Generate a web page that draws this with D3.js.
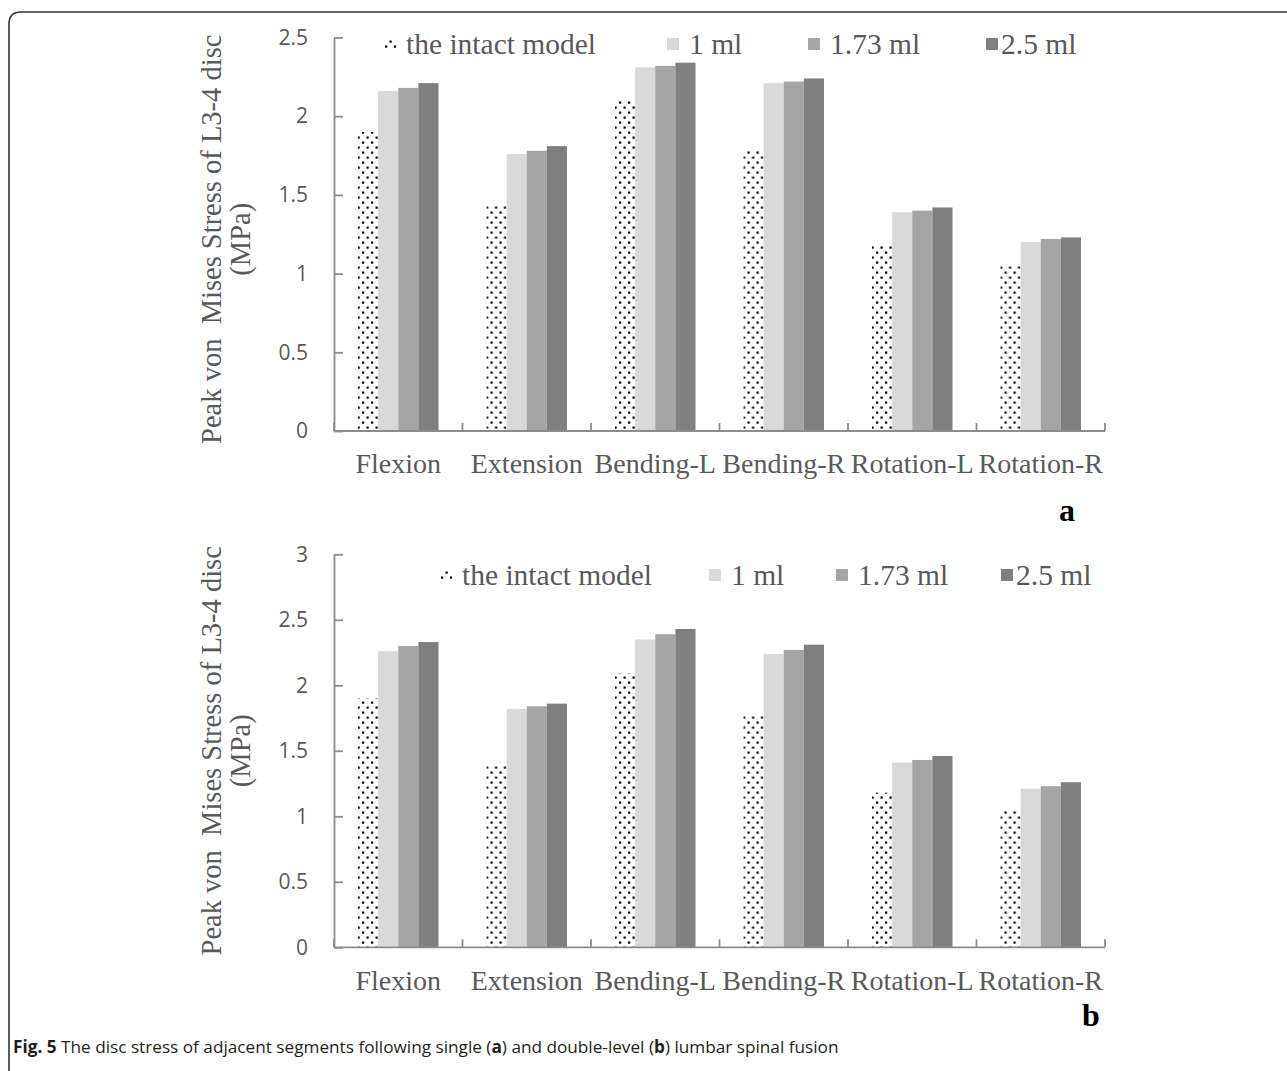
<!DOCTYPE html>
<html>
<head>
<meta charset="utf-8">
<script src="https://cdn.jsdelivr.net/npm/d3@7"></script>
<style>
  body { margin: 0; background: #fff; }
  svg { display: block; }
</style>
</head>
<body>
<svg id="fig"></svg>
<script>
// categories and series
const categories = ["Flexion", "Extension", "Bending-L", "Bending-R", "Rotation-L", "Rotation-R"];
const seriesNames = ["the intact model", "1 ml", "1.73 ml", "2.5 ml"];

// panel a: single-level fusion
const intactA = [1.90, 1.43, 2.10, 1.78, 1.18, 1.05];
const ml1A    = [2.16, 1.76, 2.31, 2.21, 1.39, 1.20];
const ml173A  = [2.18, 1.78, 2.32, 2.22, 1.40, 1.22];
const ml25A   = [2.21, 1.81, 2.34, 2.24, 1.42, 1.23];

// panel b: double-level fusion
const intactB = [1.90, 1.40, 2.09, 1.77, 1.18, 1.05];
const ml1B    = [2.26, 1.82, 2.35, 2.24, 1.41, 1.21];
const ml173B  = [2.30, 1.84, 2.39, 2.27, 1.43, 1.23];
const ml25B   = [2.33, 1.86, 2.43, 2.31, 1.46, 1.26];

const yTicksA = [0, 0.5, 1, 1.5, 2, 2.5];
const yTicksB = [0, 0.5, 1, 1.5, 2, 2.5, 3];

const yTitle1 = "Peak von  Mises Stress of L3-4 disc";
const yTitle2 = "(MPa)";
const caption = " The disc stress of adjacent segments following single (";

const fills = ["url(#dots)", "#d9d9d9", "#a5a5a5", "#7f7f7f"];
const serif = "'Liberation Serif', 'Times New Roman', serif";
const sans = "'Open Sans', 'Noto Sans', sans-serif";
const axisGrey = "#8c8c8c";
const textGrey = "#595959";

const svg = d3.select("#fig").attr("width", 1287).attr("height", 1071);

// dotted pattern for the intact model
const defs = svg.append("defs");
const pat = defs.append("pattern")
    .attr("id", "dots")
    .attr("patternUnits", "userSpaceOnUse")
    .attr("width", 9).attr("height", 10);
pat.append("rect").attr("width", 9).attr("height", 10).attr("fill", "#fff");
pat.append("rect").attr("x", 1).attr("y", 1.5).attr("width", 2.2).attr("height", 2.2).attr("fill", "#000");
pat.append("rect").attr("x", 5.5).attr("y", 6.5).attr("width", 2.2).attr("height", 2.2).attr("fill", "#000");

// frame around the figure (open at right and bottom)
svg.append("path")
    .attr("d", "M9,1080 L9,24 Q9,12 21,12 L1290,12")
    .attr("fill", "none")
    .attr("stroke", "#333")
    .attr("stroke-width", 1.6);

function drawPanel(cfg) {
  const x = d3.scaleBand().domain(categories).range([334, 1105]);
  const inner = d3.scaleBand().domain(seriesNames)
      .range([24, x.bandwidth() - 24]);
  const y = d3.scaleLinear().domain([0, cfg.yMax]).range([cfg.bottom, cfg.top]);

  const g = svg.append("g");

  // bars
  const rows = categories.map((c, i) => ({
    cat: c,
    vals: cfg.series.map((s, j) => ({ name: seriesNames[j], v: s[i], fill: fills[j] }))
  }));

  g.selectAll(".grp").data(rows).join("g")
      .attr("class", "grp")
      .attr("transform", d => `translate(${x(d.cat)},0)`)
    .selectAll("rect").data(d => d.vals).join("rect")
      .attr("x", d => inner(d.name))
      .attr("width", inner.bandwidth())
      .attr("y", d => y(d.v))
      .attr("height", d => y(0) - y(d.v))
      .attr("fill", d => d.fill);

  // y axis, ticks inside
  const yAxis = g.append("g")
      .attr("transform", "translate(334,0)")
      .call(d3.axisLeft(y).tickValues(cfg.ticks).tickFormat(d3.format("")).tickSizeInner(-9).tickSizeOuter(0).tickPadding(26));
  yAxis.select(".domain").attr("stroke", axisGrey).attr("stroke-width", 1.8);
  yAxis.selectAll(".tick line").attr("stroke", axisGrey).attr("stroke-width", 1.8);
  yAxis.selectAll(".tick text")
      .attr("fill", textGrey)
      .style("font-family", sans)
      .style("font-size", "21px");

  // x axis with boundary ticks pointing up
  const xAxisG = g.append("g").attr("transform", `translate(0,${cfg.bottom})`);
  xAxisG.append("line")
      .attr("x1", 334).attr("x2", 1105)
      .attr("stroke", axisGrey).attr("stroke-width", 1.8);
  const bounds = categories.map(c => x(c)).concat([x.range()[1]]);
  xAxisG.selectAll(".bt").data(bounds).join("line")
      .attr("class", "bt")
      .attr("x1", d => d).attr("x2", d => d)
      .attr("y1", 0).attr("y2", -8)
      .attr("stroke", axisGrey).attr("stroke-width", 1.8);
  xAxisG.selectAll(".cl").data(categories).join("text")
      .attr("class", "cl")
      .attr("x", d => x(d) + x.bandwidth() / 2)
      .attr("y", cfg.labelBase - cfg.bottom)
      .attr("text-anchor", "middle")
      .attr("fill", textGrey)
      .style("font-family", serif)
      .style("font-size", "28px")
      .text(d => d);

  // axis title
  const mid = (cfg.top + cfg.bottom) / 2 + cfg.titleShift;
  [yTitle1, yTitle2].forEach((t, i) => {
    g.append("text")
        .attr("transform", `translate(${[221, 250][i]},${mid}) rotate(-90)`)
        .attr("text-anchor", "middle")
        .attr("fill", textGrey)
        .style("font-family", serif)
        .style("font-size", "28.5px")
        .style("white-space", "pre")
        .text(t);
  });

  // legend
  const leg = g.selectAll(".leg").data(seriesNames).join("g")
      .attr("class", "leg")
      .attr("transform", (d, i) => `translate(${cfg.legendX[i]},${cfg.legendY})`);
  leg.append("rect")
      .attr("x", 0).attr("y", -6)
      .attr("width", 12).attr("height", 12)
      .attr("fill", (d, i) => fills[i]);
  leg.append("text")
      .attr("x", (d, i) => i === 3 ? 15 : 22)
      .attr("dy", "0.35em")
      .attr("fill", textGrey)
      .style("font-family", serif)
      .style("font-size", "29.5px")
      .text(d => d);

  // panel letter
  g.append("text")
      .attr("x", cfg.letterX).attr("y", cfg.letterY)
      .attr("fill", "#000")
      .style("font-family", serif)
      .style("font-weight", "bold")
      .style("font-size", "32px")
      .text(cfg.letter);
}

drawPanel({
  series: [intactA, ml1A, ml173A, ml25A],
  yMax: 2.5, ticks: yTicksA, top: 37.5, bottom: 431, titleShift: 5,
  labelBase: 473, legendX: [384, 667, 808, 986], legendY: 44,
  letter: "a", letterX: 1059, letterY: 521
});

drawPanel({
  series: [intactB, ml1B, ml173B, ml25B],
  yMax: 3, ticks: yTicksB, top: 554.3, bottom: 947.3, titleShift: 0,
  labelBase: 990, legendX: [440, 709, 836, 1001], legendY: 575,
  letter: "b", letterX: 1082, letterY: 1026
});

// caption
const cap = svg.append("text")
    .attr("x", 13).attr("y", 1053)
    .attr("fill", "#231f20")
    .style("font-family", sans)
    .style("font-size", "17.2px");
cap.append("tspan").style("font-weight", "bold").text("Fig. 5");
cap.append("tspan").text(caption);
cap.append("tspan").style("font-weight", "bold").text("a");
cap.append("tspan").text(") and double-level (");
cap.append("tspan").style("font-weight", "bold").text("b");
cap.append("tspan").text(") lumbar spinal fusion");
</script>
</body>
</html>
